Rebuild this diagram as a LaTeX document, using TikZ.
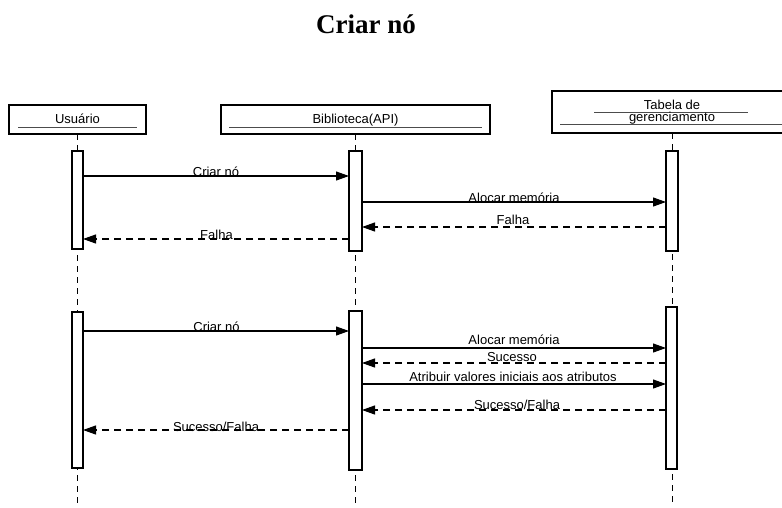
\documentclass[tikz,border=0pt]{standalone}
\usepackage{fontspec}
\setmainfont{Liberation Sans}
\newfontfamily\titlefont{Liberation Serif}
\usetikzlibrary{arrows.meta}
\tikzset{
  lbl/.style={font=\fontsize{13}{15}\selectfont, anchor=base, inner sep=0pt},
  headbox/.style={draw=black, line width=1.4pt, fill=white, inner sep=0pt, outer sep=0pt},
  act/.style={draw=black, line width=1.3pt, fill=white, inner sep=0pt, outer sep=0pt},
  underline/.style={draw=black!70, line width=0.9pt},
  lifeline/.style={draw=black, line width=0.9pt, dash pattern=on 6pt off 5pt},
  tip/.style={-{Triangle[length=13pt,width=9pt]}},
  call/.style={draw=black, line width=1.1pt, tip},
  reply/.style={draw=black, line width=1.1pt, dash pattern=on 7pt off 5pt, tip},
}
\begin{document}
\begin{tikzpicture}[x=1pt, y=-1pt]
\clip (0,0) rectangle (782,507);
\fill[white] (0,0) rectangle (782,507);

% title
\node[anchor=base, inner sep=0pt, font=\titlefont\bfseries\fontsize{27}{30}\selectfont] (title) at (366,33) {Criar nó};

% participant heads
\node[headbox, minimum width=137, minimum height=29] (hu) at (77.5,119.5) {};
\node[headbox, minimum width=269, minimum height=29] (hb) at (355.5,119.5) {};
\node[headbox, minimum width=240, minimum height=42] (ht) at (672,112) {};
\draw[underline] (18,127) -- (137,127);
\draw[underline] (229,127) -- (482,127);
\draw[underline] (594,112) -- (748,112);
\draw[underline] (560,124) -- (792,124);
\node[lbl] (tu) at (77.5,123) {Usuário};
\node[lbl] (tb) at (355.5,123) {Biblioteca(API)};
\node[lbl] (tt1) at (672,109) {Tabela de};
\node[lbl] (tt2) at (672,121) {gerenciamento};

% lifelines
\coordinate (eu) at (77.5,506);
\coordinate (eb) at (355.5,506);
\coordinate (et) at (672,506);
\draw[lifeline] (hu.south) -- (eu);
\draw[lifeline] (hb.south) -- (eb);
\draw[lifeline] (ht.south) -- (et);

% activations, first call
\node[act, minimum width=11, minimum height=98] (u1) at (77.5,200) {};
\node[act, minimum width=13, minimum height=100] (b1) at (355.5,201) {};
\node[act, minimum width=12, minimum height=100] (t1) at (672,201) {};
% activations, second call
\node[act, minimum width=11, minimum height=156] (u2) at (77.5,390) {};
\node[act, minimum width=13, minimum height=159] (b2) at (355.5,390.5) {};
\node[act, minimum width=11, minimum height=162] (t2) at (671.5,388) {};

% first call: failure
\draw[call] (u1.east |- 0,176) -- (b1.west |- 0,176);
\node[lbl] (m1) at (216,176.5) {Criar nó};
\draw[call] (b1.east |- 0,202) -- (t1.west |- 0,202);
\node[lbl] (m2) at (514,202) {Alocar memória};
\draw[reply] (t1.west |- 0,227) -- (b1.east |- 0,227);
\node[lbl] (m3) at (513,224) {Falha};
\draw[reply] (b1.west |- 0,239) -- (u1.east |- 0,239);
\node[lbl] (m4) at (216.5,239) {Falha};

% second call: success
\draw[call] (u2.east |- 0,331) -- (b2.west |- 0,331);
\node[lbl] (n1) at (216.5,331) {Criar nó};
\draw[call] (b2.east |- 0,348) -- (t2.west |- 0,348);
\node[lbl] (n2) at (514,344) {Alocar memória};
\draw[reply] (t2.west |- 0,363) -- (b2.east |- 0,363);
\node[lbl] (n3) at (512,361) {Sucesso};
\draw[call] (b2.east |- 0,384) -- (t2.west |- 0,384);
\node[lbl] (n4) at (513,381) {Atribuir valores iniciais aos atributos};
\draw[reply] (t2.west |- 0,410) -- (b2.east |- 0,410);
\node[lbl] (n5) at (517,409) {Sucesso/Falha};
\draw[reply] (b2.west |- 0,430) -- (u2.east |- 0,430);
\node[lbl] (n6) at (216,431) {Sucesso/Falha};
\end{tikzpicture}
\end{document}
